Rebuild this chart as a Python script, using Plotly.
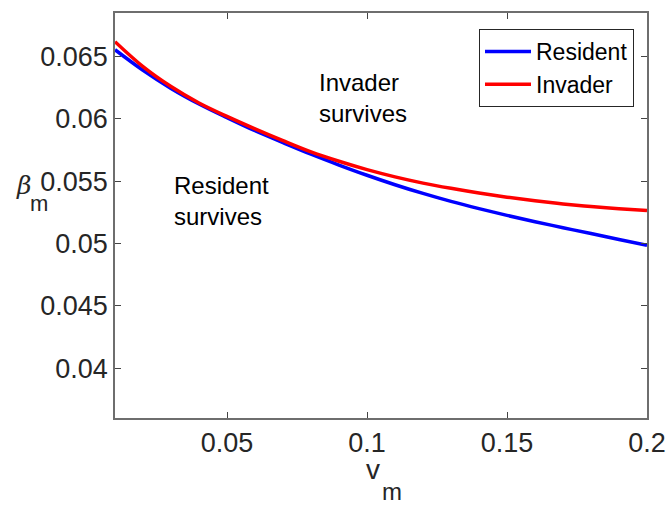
import plotly.graph_objects as go

v_m = [0.01, 0.02, 0.03, 0.04, 0.05, 0.06, 0.07, 0.08, 0.09, 0.10,
       0.11, 0.12, 0.13, 0.14, 0.15, 0.16, 0.17, 0.18, 0.19, 0.20]
beta_resident = [0.06555, 0.0639, 0.06245, 0.0612, 0.0601, 0.05905, 0.0581, 0.05717, 0.0563, 0.05548,
                 0.05472, 0.05402, 0.05338, 0.0528, 0.05226, 0.05175, 0.05127, 0.0508, 0.05033, 0.04986]
beta_invader = [0.0662, 0.0642, 0.0626, 0.06128, 0.0602, 0.0592, 0.05825, 0.05735, 0.0566, 0.05593,
                0.05535, 0.05485, 0.05443, 0.05405, 0.05372, 0.05343, 0.05318, 0.05297, 0.0528, 0.05266]

x_ticks = [0.05, 0.1, 0.15, 0.2]
x_tick_labels = ["0.05", "0.1", "0.15", "0.2"]
y_ticks = [0.04, 0.045, 0.05, 0.055, 0.06, 0.065]
y_tick_labels = ["0.04", "0.045", "0.05", "0.055", "0.06", "0.065"]

FONT = "Liberation Sans, Arial, sans-serif"
AX = "#262626"

W, H = 667, 508
ML, MR, MT, MB = 115, 20, 13, 90
plot_w = W - ML - MR
plot_h = H - MT - MB


def px(xp):
    return (xp - ML) / plot_w


def py(yp):
    return 1 - (yp - MT) / plot_h


fig = go.Figure()
fig.add_trace(go.Scatter(x=v_m, y=beta_resident, mode="lines", name="Resident",
                         line=dict(color="#0000ff", width=3.5, shape="spline")))
fig.add_trace(go.Scatter(x=v_m, y=beta_invader, mode="lines", name="Invader",
                         line=dict(color="#ff0000", width=3.5, shape="spline")))

axis_common = dict(showgrid=False, zeroline=False, showline=True, linecolor="#6e6e6e",
                   linewidth=1.5, mirror="ticks", ticks="inside", ticklen=6,
                   tickcolor="#444444", automargin=False,
                   tickfont=dict(family=FONT, size=27, color=AX))

fig.update_layout(
    width=W, height=H,
    margin=dict(l=ML, r=MR, t=MT, b=MB),
    plot_bgcolor="white", paper_bgcolor="white",
    font=dict(family=FONT, color=AX),
    xaxis=dict(range=[0.01, 0.2], tickvals=x_ticks, ticktext=x_tick_labels, **axis_common),
    yaxis=dict(range=[0.036, 0.0685], tickvals=y_ticks, ticktext=y_tick_labels, **axis_common),
    legend=dict(x=px(634), y=py(29), xanchor="right", yanchor="top",
                bordercolor=AX, borderwidth=1, bgcolor="white",
                font=dict(family=FONT, size=23, color="black"),
                tracegroupgap=0, itemwidth=46),
    showlegend=True,
)

fig.add_annotation(x=0.0986, y=0.0617, xref="x", yref="y", text="Invader<br>survives",
                   showarrow=False, align="left", xanchor="center", yanchor="middle",
                   font=dict(family=FONT, size=24, color="black"))
fig.add_annotation(x=0.0482, y=0.0534, xref="x", yref="y", text="Resident<br>survives",
                   showarrow=False, align="left", xanchor="center", yanchor="middle",
                   font=dict(family=FONT, size=24, color="black"))

# y-axis label: beta_m
fig.add_annotation(x=px(23), y=py(185), xref="paper", yref="paper", text="<i>β</i>",
                   showarrow=False, xanchor="center", yanchor="middle",
                   font=dict(family="DejaVu Serif, serif", size=25, color=AX))
fig.add_annotation(x=px(39), y=py(203), xref="paper", yref="paper", text="m",
                   showarrow=False, xanchor="center", yanchor="middle",
                   font=dict(family=FONT, size=22, color=AX))
# x-axis label: v_m
fig.add_annotation(x=px(373), y=py(469), xref="paper", yref="paper", text="v",
                   showarrow=False, xanchor="center", yanchor="middle",
                   font=dict(family=FONT, size=28, color=AX))
fig.add_annotation(x=px(392), y=py(491), xref="paper", yref="paper", text="m",
                   showarrow=False, xanchor="center", yanchor="middle",
                   font=dict(family=FONT, size=24, color=AX))

fig.write_html("out.html")
